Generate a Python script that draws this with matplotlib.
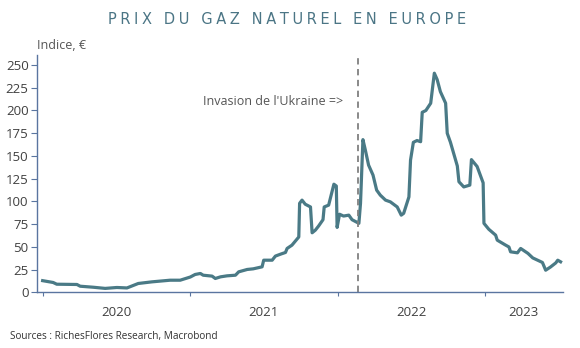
import numpy as np
import pandas as pd
import matplotlib
matplotlib.use("Agg")
import matplotlib.pyplot as plt

# valeurs (indice, EUR)
dates = ["2020-01-01", "2020-01-27", "2020-02-05", "2020-03-26", "2020-04-03", "2020-05-05",
         "2020-06-04", "2020-07-03", "2020-07-28", "2020-08-25", "2020-09-28", "2020-11-12",
         "2020-12-07", "2021-01-01", "2021-01-13", "2021-01-26", "2021-02-02", "2021-02-24",
         "2021-03-04", "2021-03-17", "2021-04-02", "2021-04-23", "2021-05-01", "2021-05-22",
         "2021-06-06", "2021-06-28", "2021-07-02", "2021-07-23", "2021-07-31", "2021-08-12",
         "2021-08-25", "2021-08-29", "2021-09-10", "2021-09-27", "2021-09-29", "2021-10-05",
         "2021-10-13", "2021-10-26", "2021-10-30", "2021-11-07", "2021-11-15", "2021-11-26",
         "2021-11-29", "2021-12-10", "2021-12-23", "2021-12-29", "2021-12-31", "2022-01-06",
         "2022-01-16", "2022-01-29", "2022-02-06", "2022-02-23", "2022-02-27", "2022-03-05",
         "2022-03-11", "2022-03-19", "2022-03-30", "2022-04-08", "2022-04-17", "2022-04-30",
         "2022-05-12", "2022-05-29", "2022-06-08", "2022-06-14", "2022-06-27", "2022-07-01",
         "2022-07-08", "2022-07-17", "2022-07-26", "2022-07-30", "2022-08-08", "2022-08-20",
         "2022-08-29", "2022-09-05", "2022-09-13", "2022-09-26", "2022-09-30", "2022-10-08",
         "2022-10-25", "2022-10-29", "2022-11-10", "2022-11-25", "2022-11-29", "2022-12-13",
         "2022-12-28", "2022-12-30", "2023-01-11", "2023-01-28", "2023-02-01", "2023-02-20",
         "2023-03-02", "2023-03-06", "2023-03-23", "2023-03-31", "2023-04-18", "2023-04-30",
         "2023-05-24", "2023-06-01", "2023-06-13", "2023-06-26", "2023-07-01", "2023-07-08"]
values = [13, 11, 9.1, 8.8, 6.9, 5.8,
          4.5, 5.5, 5, 9.9, 11.7, 13.5,
          13.5, 17, 19.8, 20.9, 19, 18,
          15.4, 17.2, 18.3, 19, 22.7, 25.3,
          26, 28.2, 35.5, 35.5, 40, 42,
          44, 48.4, 52, 61, 98, 101.5,
          97, 94, 65.6, 68.5, 73, 80,
          94, 96, 119, 117, 71.5, 86,
          84, 85, 80, 76, 98, 168,
          156.5, 140, 129, 112.5, 107, 101.5,
          99.6, 94, 85, 87, 105, 145.5,
          165, 167, 165.7, 198, 200, 208,
          241, 234, 220.7, 208, 175, 165,
          139, 121.7, 116, 118, 146, 138.5,
          120.5, 76, 69.5, 63, 57.5, 52.5,
          50, 44.7, 43.6, 48.4, 43, 38,
          33, 24.5, 28, 32.5, 35.5, 33.7]

yticks = [0, 25, 50, 75, 100, 125, 150, 175, 200, 225, 250]
year_ticks = ["2020-01-01", "2021-01-01", "2022-01-01", "2023-01-01"]
year_labels = ["2020", "2021", "2022", "2023"]
invasion = "2022-02-22"
x_start, x_end = "2019-12-18", "2023-07-14"
title = "PRIX DU GAZ NATUREL EN EUROPE"

x = pd.to_datetime(dates)
line_col = "#4a7a86"
spine_col = "#5a75a0"
txt_col = "#404040"

fig = plt.figure(figsize=(5.8, 3.48), dpi=100)
ax = fig.add_axes([0.0638, 0.1595, 0.9069, 0.6825])

ax.plot(x, values, color=line_col, lw=2.3, solid_joinstyle="round")
ax.axvline(pd.Timestamp(invasion), color="#808080", lw=1.3, ls=(0, (3.5, 2.5)))

ax.set_ylim(0, 261)
ax.set_xlim(pd.Timestamp(x_start), pd.Timestamp(x_end))
ax.set_yticks(yticks)
ax.set_yticklabels([str(v) for v in yticks], fontsize=9.5, color=txt_col, family="Open Sans")

yt = pd.to_datetime(year_ticks)
ax.set_xticks(yt)
ax.set_xticklabels([])
# libelles au milieu de chaque annee (2023 : milieu de la partie visible)
mids = [yt[0] + (yt[1] - yt[0]) / 2, yt[1] + (yt[2] - yt[1]) / 2,
        yt[2] + (yt[3] - yt[2]) / 2, yt[3] + (pd.Timestamp(x_end) - yt[3]) / 2]
ax.set_xticks(mids, minor=True)
ax.set_xticklabels(year_labels, minor=True, fontsize=9.5, color=txt_col, family="Open Sans")
ax.tick_params(axis="x", which="minor", length=0, pad=10)
ax.tick_params(axis="x", which="major", length=3, color=spine_col)
ax.tick_params(axis="y", length=4, color=spine_col, pad=2)

for s in ["top", "right"]:
    ax.spines[s].set_visible(False)
for s in ["left", "bottom"]:
    ax.spines[s].set_color(spine_col)
    ax.spines[s].set_linewidth(1.0)

ax.text(pd.Timestamp("2021-02-01"), 210, "Invasion de l'Ukraine =>", fontsize=9,
        color="#555555", family="Open Sans", va="center")

fig.text(0.064, 0.87, "Indice, €", fontsize=9, color="#555555", family="Open Sans", va="center")
fig.text(0.017, 0.034, "Sources : RichesFlores Research, Macrobond", fontsize=7.2,
         color="#333333", family="Open Sans", va="center")

# titre en capitales espacees, taille ajustee pour couvrir 107-467 px
sep = "\u2005"
words = [sep.join(wd) for wd in title.split(" ")]
spaced = (sep + " " + sep).join(words)
tt = fig.text(0.495, 0.932, spaced, fontsize=10, color="#4b7585",
              family="DejaVu Sans", va="baseline", ha="center")
fig.canvas.draw()
w = tt.get_window_extent(renderer=fig.canvas.get_renderer()).width
tt.set_fontsize(10 * 360.0 / w)

fig.savefig("out.png", dpi=100)
